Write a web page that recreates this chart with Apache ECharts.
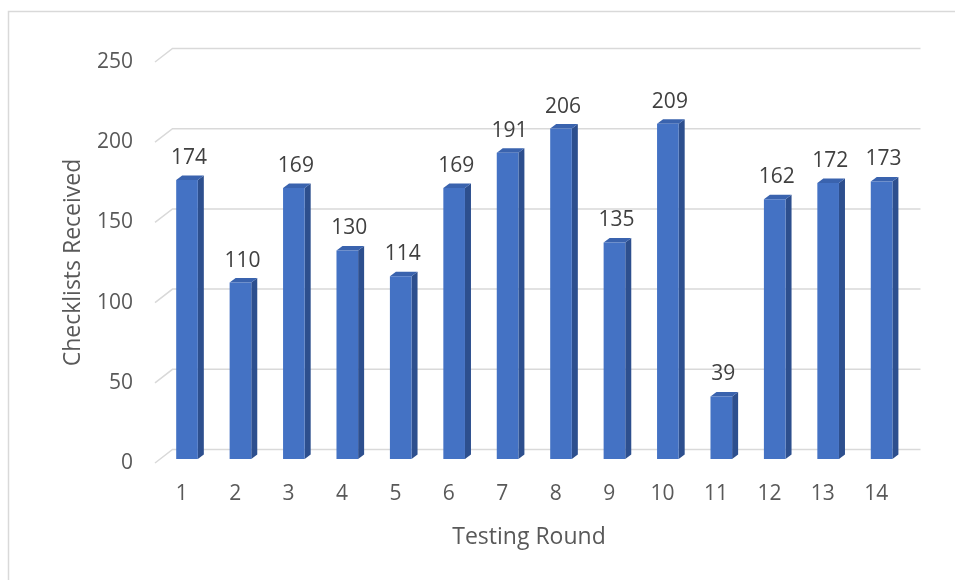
<!DOCTYPE html>
<html>
<head>
<meta charset="utf-8">
<title>Checklists Received by Testing Round</title>
<script src="https://cdn.jsdelivr.net/npm/echarts@6/dist/echarts.min.js"></script>
<style>
  html, body { margin: 0; padding: 0; background: #fff; }
  #chart { width: 955px; height: 580px; }
</style>
</head>
<body>
<div id="chart"></div>
<script>
// data
const rounds = ['1', '2', '3', '4', '5', '6', '7', '8', '9', '10', '11', '12', '13', '14']
const checklists = [174, 110, 169, 130, 114, 169, 191, 206, 135, 209, 39, 162, 172, 173]
const yTicks = [0, 50, 100, 150, 200, 250]

// 3d look: back wall offset and bar depth
const WALL_DX = 17.5
const WALL_DY = 13.5
const FACE_DX = 5.3
const FACE_DY = 4
const DEPTH_DX = 6
const DEPTH_DY = 4.5

const textColor = '#595959'
const font = '"Open Sans", "Liberation Sans", sans-serif'

const chart = echarts.init(document.getElementById('chart'))

const renderGridLine = (params, api) => {
  const rect = params.coordSys
  const y = api.coord([0, api.value(1)])[1]
  return {
    type: 'polyline',
    shape: {
      points: [
        [rect.x, y],
        [rect.x + WALL_DX, y - WALL_DY],
        [rect.x + rect.width + WALL_DX, y - WALL_DY]
      ]
    },
    style: { stroke: '#D9D9D9', lineWidth: 1.5, fill: null },
    silent: true
  }
}

const renderBar = (params, api) => {
  const idx = api.value(0)
  const val = api.value(1)
  const top = api.coord([idx, val])
  const base = api.coord([idx, 0])
  const bw = api.size([1, 0])[0] * 0.405
  const xl = top[0] + FACE_DX - bw / 2
  const xr = xl + bw
  const yt = top[1] - FACE_DY
  const yb = base[1] - FACE_DY
  return {
    type: 'group',
    children: [
      {
        type: 'polygon',
        shape: { points: [[xr, yt], [xr + DEPTH_DX, yt - DEPTH_DY], [xr + DEPTH_DX, yb - DEPTH_DY], [xr, yb]] },
        style: { fill: '#2D4F8E' }
      },
      {
        type: 'polygon',
        shape: { points: [[xl, yt], [xl + DEPTH_DX, yt - DEPTH_DY], [xr + DEPTH_DX, yt - DEPTH_DY], [xr, yt]] },
        style: { fill: '#3A63AE' }
      },
      {
        type: 'rect',
        shape: { x: xl, y: yt, width: bw, height: yb - yt },
        style: { fill: '#4472C4' }
      },
      {
        type: 'text',
        x: (xl + xr) / 2 + 2,
        y: yt - 22,
        style: {
          text: String(val),
          fill: '#404040',
          font: '21px ' + font,
          align: 'center',
          verticalAlign: 'middle'
        }
      }
    ]
  }
}

const option = {
  animation: false,
  graphic: [
    {
      type: 'rect',
      shape: { x: 8.5, y: 11.5, width: 1000, height: 1000 },
      style: { fill: null, stroke: '#D9D9D9', lineWidth: 1.5 },
      silent: true
    }
  ],
  grid: {
    left: 155,
    right: 52,
    top: 62,
    bottom: 117
  },
  xAxis: {
    type: 'category',
    data: rounds,
    axisLine: { show: false },
    axisTick: { show: false },
    axisLabel: { color: textColor, fontSize: 21, fontFamily: font, margin: 21 },
    name: 'Testing Round',
    nameLocation: 'middle',
    nameGap: 63,
    nameTextStyle: { color: textColor, fontSize: 23, fontFamily: font }
  },
  yAxis: {
    type: 'value',
    min: 0,
    max: 250,
    interval: 50,
    axisLine: { show: false },
    axisTick: { show: false },
    splitLine: { show: false },
    axisLabel: { color: textColor, fontSize: 21, fontFamily: font, margin: 22, padding: [6, 0, 0, 0] },
    name: 'Checklists Received',
    nameLocation: 'middle',
    nameRotate: 90,
    nameGap: 70,
    nameTextStyle: { color: textColor, fontSize: 23, fontFamily: font }
  },
  series: [
    {
      name: 'grid',
      type: 'custom',
      z: 1,
      renderItem: renderGridLine,
      data: yTicks.map(v => [0, v])
    },
    {
      name: 'Checklists Received',
      type: 'custom',
      z: 2,
      renderItem: renderBar,
      data: checklists.map((v, i) => [i, v])
    }
  ]
}

chart.setOption(option)
</script>
</body>
</html>
